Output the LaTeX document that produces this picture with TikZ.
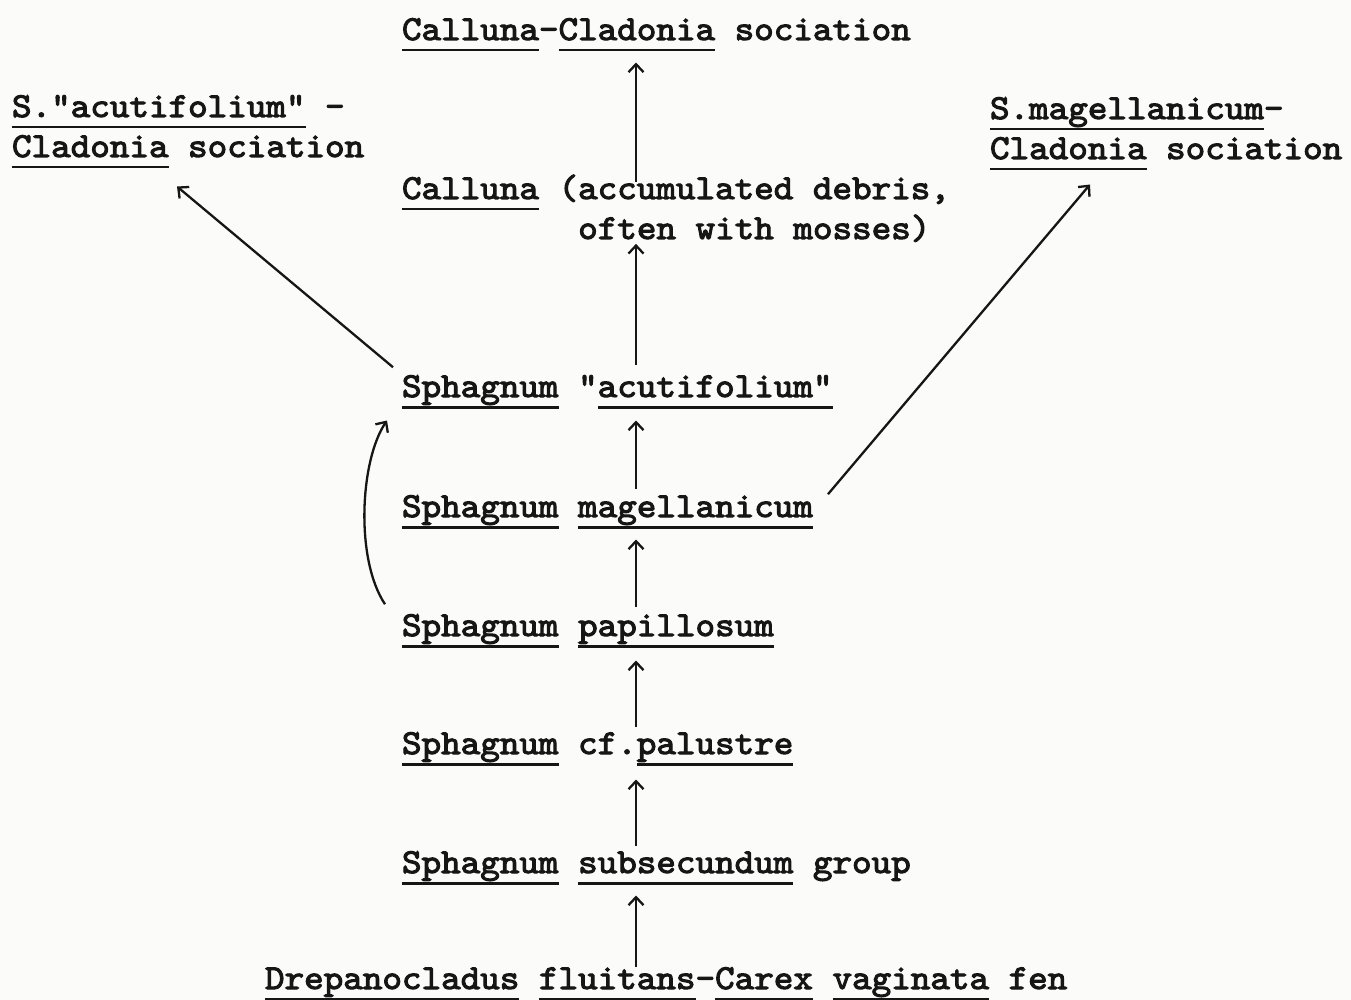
\documentclass[tikz,border=0pt]{standalone}
\usepackage{fontspec}
\newfontfamily\tw{lmmono10-regular.otf}[FakeStretch=1.065,FakeBold=3]
\usetikzlibrary{arrows.meta}
\definecolor{ink}{RGB}{22,22,22}
\definecolor{paper}{RGB}{251,251,249}
\newcommand\ulw[1]{\setbox0\hbox{#1}\rlap{\rule[-11.5pt]{\wd0}{2.8pt}}\box0\relax}
\tikzset{
  txt/.style={font=\tw\fontsize{35}{40}\selectfont, anchor=base west, inner sep=0pt, outer sep=0pt, text=ink},
  arr/.style={draw=ink, line width=2.3pt, -{Straight Barb[length=8pt,width=15pt]}},
}
\begin{document}
\begin{tikzpicture}[x=1pt,y=-1pt]
\fill[paper] (0,0) rectangle (1351,1000);
\useasboundingbox (0,0) rectangle (1351,1000);
\coordinate (ax) at (636,0);
\node[txt] (top)   at (402,40)  {\ulw{Calluna}-\ulw{Cladonia} sociation};
\node[txt] (lsocA) at (12,117)  {\ulw{S."acutifolium"} -};
\node[txt] (lsocB) at (12,157)  {\ulw{Cladonia} sociation};
\node[txt] (rsocA) at (990,119) {\ulw{S.magellanicum}-};
\node[txt] (rsocB) at (990,159) {\ulw{Cladonia} sociation};
\node[txt] (calA)  at (402,199) {\ulw{Calluna} (accumulated debris,};
\node[txt] (calB)  at (578.2,239) {often with mosses)};
\node[txt] (acut)  at (402,397) {\ulw{Sphagnum} "\ulw{acutifolium"}};
\node[txt] (mag)   at (402,517) {\ulw{Sphagnum} \ulw{magellanicum}};
\node[txt] (pap)   at (402,636) {\ulw{Sphagnum} \ulw{papillosum}};
\node[txt] (pal)   at (402,754) {\ulw{Sphagnum} cf.\ulw{palustre}};
\node[txt] (sub)   at (402,873) {\ulw{Sphagnum} \ulw{subsecundum} group};
\node[txt] (drep)  at (265,989) {\ulw{Drepanocladus} \ulw{fluitans}-\ulw{Carex} \ulw{vaginata} fen};
% vertical succession arrows
\draw[arr, shorten <=-7pt, shorten >=11pt] (calA.north -| ax) -- (top.south -| ax);
\draw[arr, shorten <=10pt, shorten >=2pt] (acut.north -| ax) -- (calB.south -| ax);
\draw[arr, shorten <=6pt, shorten >=12pt] (mag.north -| ax) -- (acut.south -| ax);
\draw[arr, shorten <=7pt, shorten >=11pt] (pap.north -| ax) -- (mag.south -| ax);
\draw[arr, shorten <=5pt, shorten >=13pt] (pal.north -| ax) -- (pap.south -| ax);
\draw[arr, shorten <=5pt, shorten >=14pt] (sub.north -| ax) -- (pal.south -| ax);
\draw[arr, shorten <=0pt, shorten >=11pt] (drep.north -| ax) -- (sub.south -| ax);
% diagonals
\draw[arr] ([shift={(-9,-8)}]acut.north west) -- ([shift={(165,18)}]lsocB.south west);
\draw[arr] ([shift={(15,-1)}]mag.north east) -- ([shift={(100,14)}]rsocB.south west);
% curved arrow
\draw[arr] ([shift={(-17,-10)}]pap.north west) .. controls +(-30,-45) and +(-27,40) .. ([shift={(-15,12)}]acut.south west);
\end{tikzpicture}
\end{document}
